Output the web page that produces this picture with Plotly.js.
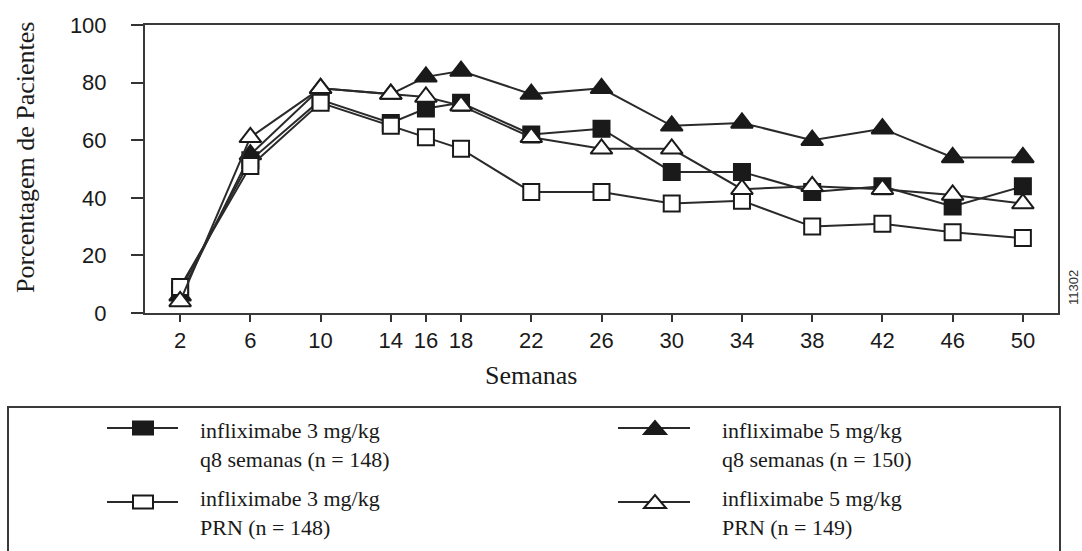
<!DOCTYPE html>
<html>
<head>
<meta charset="utf-8">
<script src="https://cdn.plot.ly/plotly-3.0.1.min.js"></script>
<style>html,body{margin:0;padding:0;background:#fff;}#chart{width:1082px;height:551px;}</style>
</head>
<body>
<div id="chart"></div>
<script>
// Data
var weeks = [2, 6, 10, 14, 16, 18, 22, 26, 30, 34, 38, 42, 46, 50];
var inflix3q8  = [8, 53, 74, 66, 71, 73, 62, 64, 49, 49, 42, 44, 37, 44];
var inflix3prn = [9, 51, 73, 65, 61, 57, 42, 42, 38, 39, 30, 31, 28, 26];
var inflix5q8  = [6, 55, 78, 76, 82, 84, 76, 78, 65, 66, 60, 64, 54, 54];
var inflix5prn = [4, 61, 78, 76, 75, 72, 61, 57, 57, 43, 44, 43, 41, 38];
var seriesNames = [
  ["infliximabe 3 mg/kg", "q8 semanas (n = 148)"],
  ["infliximabe 5 mg/kg", "q8 semanas (n = 150)"],
  ["infliximabe 3 mg/kg", "PRN (n = 148)"],
  ["infliximabe 5 mg/kg", "PRN (n = 149)"]
];
var yTicks = [0, 20, 40, 60, 80, 100];

var INK = '#1a1a1a';
var LINE = '#2a2a2a';
var serif = '"Liberation Serif", "Times New Roman", serif';
var sans = '"Liberation Sans", Arial, sans-serif';

var styles = {
  fsq: {symbol: 'square', size: 16, color: INK, line: {color: INK, width: 2}},
  osq: {symbol: 'square', size: 16, color: '#ffffff', line: {color: INK, width: 2}},
  ftr: {symbol: 'triangle-up', size: 19, color: INK, line: {color: INK, width: 2}},
  otr: {symbol: 'triangle-up', size: 19, color: '#ffffff', line: {color: INK, width: 2}}
};

function series(y, st, name) {
  return {x: weeks, y: y, type: 'scatter', mode: 'lines+markers', name: name,
    line: {color: LINE, width: 2}, marker: st, showlegend: false, cliponaxis: false, hoverinfo: 'x+y'};
}

var traces = [
  series(inflix5q8, styles.ftr, seriesNames[1].join(' ')),
  series(inflix3q8, styles.fsq, seriesNames[0].join(' ')),
  series(inflix3prn, styles.osq, seriesNames[2].join(' ')),
  series(inflix5prn, styles.otr, seriesNames[3].join(' '))
];

// Plot area in pixels
var L = 145, R = 1058, T = 25, B = 313;
var W = R - L, H = B - T;
function px(x) { return (x - L) / W; }
function py(y) { return (B - y) / H; }

// Custom legend (layout)
var legendItems = [
  {kind: 'sq', fill: INK, lx0: 107, lx1: 178, mx: 143, my: 428, tx: 198, ty: [430, 460], names: seriesNames[0]},
  {kind: 'tr', fill: INK, lx0: 618, lx1: 690, mx: 655, my: 428, tx: 720, ty: [430, 460], names: seriesNames[1]},
  {kind: 'sq', fill: '#ffffff', lx0: 107, lx1: 178, mx: 143, my: 502, tx: 198, ty: [498, 527], names: seriesNames[2]},
  {kind: 'tr', fill: '#ffffff', lx0: 618, lx1: 690, mx: 655, my: 502, tx: 720, ty: [498, 527], names: seriesNames[3]}
];

var shapes = [{type: 'rect', xref: 'paper', yref: 'paper', x0: px(8), x1: px(1060), y0: py(556), y1: py(407),
  line: {color: '#3a3a3a', width: 2}, fillcolor: 'rgba(0,0,0,0)'}];
var annotations = [];
legendItems.forEach(function (it) {
  shapes.push({type: 'line', xref: 'paper', yref: 'paper', x0: px(it.lx0), x1: px(it.lx1), y0: py(it.my), y1: py(it.my),
    line: {color: LINE, width: 2}});
  var sym = {xref: 'paper', yref: 'paper', xsizemode: 'pixel', ysizemode: 'pixel',
    xanchor: px(it.mx), yanchor: py(it.my), fillcolor: it.fill, line: {color: INK, width: 2}};
  if (it.kind === 'sq') {
    sym.type = 'rect'; sym.x0 = -10; sym.x1 = 10; sym.y0 = -6.5; sym.y1 = 6.5;
  } else {
    sym.type = 'path'; sym.path = 'M-11,-6 L11,-6 L0,7 Z';
  }
  shapes.push(sym);
  it.ty.forEach(function (yy, i) {
    annotations.push({xref: 'paper', yref: 'paper', x: px(it.tx), y: py(yy), xanchor: 'left', yanchor: 'middle',
      text: it.names[i], showarrow: false, font: {family: serif, size: 22, color: INK}});
  });
});

annotations.push({xref: 'paper', yref: 'paper', x: px(531), y: py(375), xanchor: 'center', yanchor: 'middle',
  text: 'Semanas', showarrow: false, font: {family: serif, size: 26, color: INK}});
annotations.push({xref: 'paper', yref: 'paper', x: px(25), y: py(158), xanchor: 'center', yanchor: 'middle',
  text: 'Porcentagem de Pacientes', textangle: -90, showarrow: false, font: {family: serif, size: 26, color: INK}});
annotations.push({xref: 'paper', yref: 'paper', x: px(1073), y: py(288), xanchor: 'center', yanchor: 'middle',
  text: '11302', textangle: -90, showarrow: false, font: {family: sans, size: 13, color: '#333'}});

var layout = {
  width: 1082, height: 551,
  margin: {l: L, r: 1082 - R, t: T, b: 551 - B, pad: 0},
  paper_bgcolor: '#ffffff', plot_bgcolor: '#ffffff',
  showlegend: false,
  xaxis: {range: [0, 52], tickvals: weeks, ticktext: weeks.map(String), ticks: 'outside', ticklen: 7, tickwidth: 2,
    tickcolor: '#333', showline: true, linecolor: '#3a3a3a', linewidth: 2, mirror: true, showgrid: false, zeroline: false,
    tickfont: {family: sans, size: 22, color: INK}, ticklabelstandoff: 0, fixedrange: true},
  yaxis: {range: [0, 100], tickvals: yTicks, ticks: 'outside', ticklen: 12, tickwidth: 2, tickcolor: '#333',
    showline: true, linecolor: '#3a3a3a', linewidth: 2, mirror: true, showgrid: false, zeroline: false,
    tickfont: {family: sans, size: 22, color: INK}, ticklabelstandoff: 20, fixedrange: true},
  shapes: shapes,
  annotations: annotations
};

Plotly.newPlot('chart', traces, layout, {displayModeBar: false, staticPlot: true});
</script>
</body>
</html>
